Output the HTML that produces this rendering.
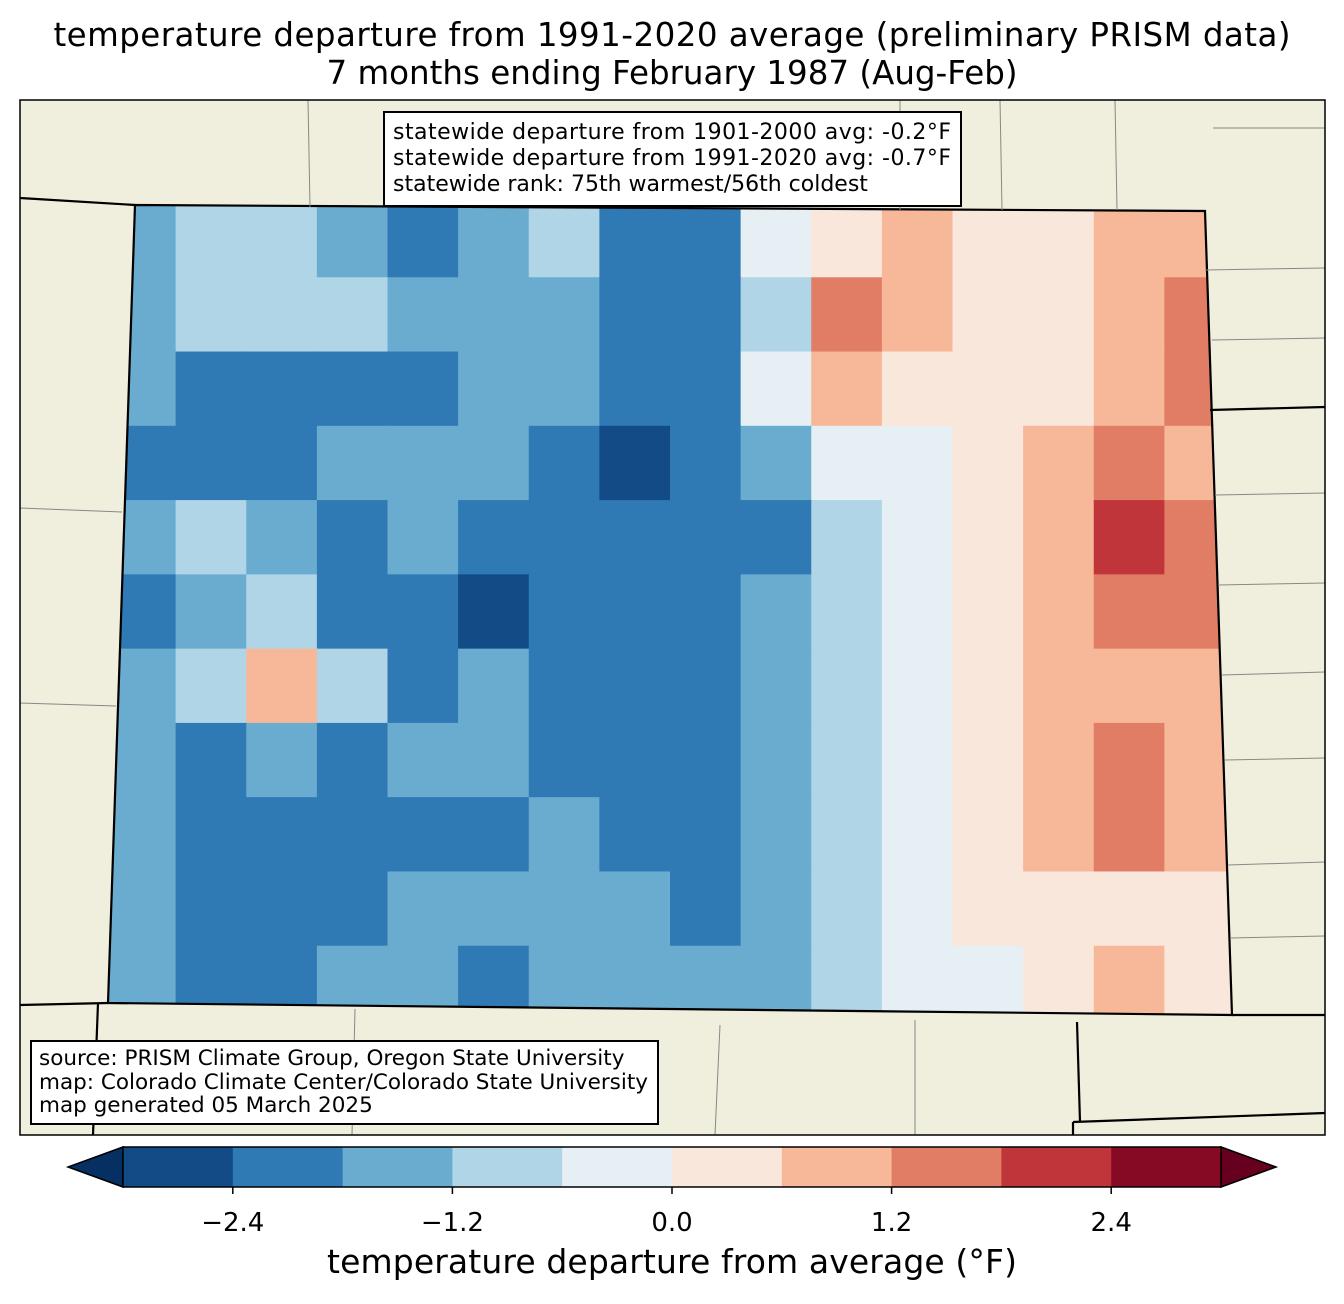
<!DOCTYPE html>
<html><head><meta charset="utf-8"><style>
body{margin:0;background:#fff;width:1344px;height:1299px;overflow:hidden;font-family:"Liberation Sans","DejaVu Sans",sans-serif}
</style></head><body>
<svg width="1344" height="1299" viewBox="0 0 1344 1299" xmlns="http://www.w3.org/2000/svg" font-family="DejaVu Sans, Liberation Sans, sans-serif">
<text x="672" y="46" font-size="32.5" text-anchor="middle" textLength="1237">temperature departure from 1991-2020 average (preliminary PRISM data)</text>
<text x="672" y="84" font-size="32.5" text-anchor="middle">7 months ending February 1987 (Aug-Feb)</text>
<defs><clipPath id="st"><polygon points="135,205 1205,211 1232,1015 108,1003"/></clipPath>
<clipPath id="fr"><rect x="20" y="100" width="1305" height="1035"/></clipPath></defs>
<rect x="20" y="100" width="1305" height="1035" fill="#f0eedc"/>
<g id="heat" clip-path="url(#st)"></g>
<g clip-path="url(#fr)" stroke="#000" stroke-width="2.2" fill="none">
<polygon points="135,205 1205,211 1232,1015 108,1003"/>
<line x1="20" y1="198" x2="135" y2="205"/><line x1="20" y1="1005" x2="108" y2="1003"/>
<line x1="1210" y1="410" x2="1325" y2="407"/><line x1="1232" y1="1015" x2="1325" y2="1015"/>
<line x1="1077" y1="1022" x2="1080" y2="1122"/><line x1="1073" y1="1122" x2="1325" y2="1113"/><line x1="1073" y1="1122" x2="1073" y2="1135"/>
<line x1="98" y1="1003" x2="93" y2="1135"/>
</g>
<g stroke="#888" stroke-width="1" fill="none" clip-path="url(#fr)">
<line x1="20" y1="508" x2="122" y2="512"/><line x1="20" y1="703" x2="116" y2="706"/>
<line x1="1213" y1="128" x2="1325" y2="128"/><line x1="1205" y1="270" x2="1325" y2="268"/><line x1="1212" y1="340" x2="1325" y2="338"/>
<line x1="1215" y1="495" x2="1325" y2="493"/><line x1="1218" y1="585" x2="1325" y2="583"/><line x1="1222" y1="675" x2="1325" y2="672"/>
<line x1="1225" y1="760" x2="1325" y2="758"/><line x1="1228" y1="865" x2="1325" y2="862"/><line x1="1230" y1="938" x2="1325" y2="936"/>
<line x1="308" y1="100" x2="310" y2="207"/><line x1="900" y1="100" x2="900" y2="210"/><line x1="1000" y1="100" x2="1002" y2="210"/><line x1="1115" y1="100" x2="1117" y2="210"/>
<line x1="355" y1="1009" x2="352" y2="1135"/><line x1="915" y1="1020" x2="915" y2="1135"/><line x1="720" y1="1025" x2="715" y2="1135"/>
</g>
<rect x="20" y="100" width="1305" height="1035" fill="none" stroke="#000" stroke-width="1.5"/>
<g>
<rect x="384" y="112" width="577" height="94" fill="#fff" stroke="#000" stroke-width="2"/>
<text x="393" y="139" font-size="22" textLength="558">statewide departure from 1901-2000 avg: -0.2°F</text>
<text x="393" y="165" font-size="22" textLength="558">statewide departure from 1991-2020 avg: -0.7°F</text>
<text x="393" y="191" font-size="22">statewide rank: 75th warmest/56th coldest</text>
</g>
<g>
<rect x="31" y="1041" width="627" height="83" fill="#fff" stroke="#000" stroke-width="2"/>
<text x="39" y="1065" font-size="21.5">source: PRISM Climate Group, Oregon State University</text>
<text x="39" y="1089" font-size="21.5" textLength="609">map: Colorado Climate Center/Colorado State University</text>
<text x="39" y="1112" font-size="21.5">map generated 05 March 2025</text>
</g>
<g id="cbar"></g>
<text x="672" y="1273" font-size="33" text-anchor="middle" textLength="690">temperature departure from average (°F)</text>
</svg>
<script>
const binColors=["#134b87","#2f79b5","#6aacd0","#b0d5e7","#e6eff4","#fae7dc","#f7b799","#e17d65","#c0353a","#870a24"];
const binEdges=[-3.0,-2.4,-1.8,-1.2,-0.6,0,0.6,1.2,1.8,2.4,3.0];
const tickValues=[-2.4,-1.2,0.0,1.2,2.4];
const tickLabels=["\u22122.4","\u22121.2","0.0","1.2","2.4"];
const gridRows=[
[-1.3,-0.9,-1.2,-1.5,-1.9,-1.3,-0.7,-1.9,-2.2,-0.4,0.3,0.7,0.3,0.3,0.9,0.9],
[-1.3,-0.9,-0.8,-0.7,-1.3,-1.5,-1.3,-1.9,-2.3,-0.7,1.5,0.8,0.3,0.3,0.9,1.5],
[-1.5,-1.9,-2.1,-2.3,-2.1,-1.5,-1.3,-1.9,-2.3,-0.4,0.6,0.3,0.3,0.3,0.9,1.2],
[-1.9,-2.1,-1.9,-1.5,-1.5,-1.3,-2.1,-2.5,-2.1,-1.3,-0.6,-0.3,0.2,0.6,1.2,0.9],
[-1.5,-0.9,-1.5,-1.9,-1.5,-2.1,-2.3,-2.1,-1.9,-1.9,-1.0,-0.3,0.3,1.0,2.0,1.5],
[-2.1,-1.3,-0.9,-1.9,-2.3,-2.5,-2.1,-1.9,-2.1,-1.5,-0.7,-0.3,0.3,0.8,1.5,1.2],
[-1.5,-0.9,0.6,-0.9,-2.1,-1.5,-2.1,-2.1,-2.3,-1.5,-0.7,-0.3,0.3,0.6,0.9,0.9],
[-1.5,-1.9,-1.5,-1.9,-1.3,-1.5,-1.9,-1.9,-2.4,-1.3,-0.7,-0.3,0.3,0.9,1.2,0.6],
[-1.3,-1.9,-2.1,-1.9,-1.9,-1.9,-1.5,-1.9,-2.4,-1.3,-0.7,-0.3,0.3,0.9,1.2,0.6],
[-1.5,-1.9,-2.1,-1.9,-1.3,-1.5,-1.3,-1.5,-1.9,-1.3,-0.7,-0.3,0.1,0.3,0.3,0.3],
[-1.5,-2.1,-1.9,-1.5,-1.5,-1.9,-1.5,-1.5,-1.5,-1.3,-0.7,-0.3,-0.3,0.1,0.6,0.3]];
const NS="http://www.w3.org/2000/svg";
function colorFor(v){for(let i=0;i<10;i++){if(v<binEdges[i+1])return binColors[i];}return binColors[9];}
const mx0=105,mx1=1235,my0=203,my1=1020;
const heat=document.getElementById('heat');
const nr=gridRows.length,nc=gridRows[0].length,cw=(mx1-mx0)/nc,ch=(my1-my0)/nr;
gridRows.forEach((row,r)=>row.forEach((v,c)=>{
const el=document.createElementNS(NS,'rect');


el.setAttribute('x',mx0+c*cw);el.setAttribute('y',my0+r*ch);
el.setAttribute('width',cw+1);el.setAttribute('height',ch+1);el.setAttribute('fill',colorFor(v));
heat.appendChild(el);}));
const cb=document.getElementById('cbar');
const cx0=123,cx1=1221,cy0=1147,cy1=1187;
const sx=v=>cx0+(v-binEdges[0])/(binEdges[10]-binEdges[0])*(cx1-cx0);
function add(tag,attrs,name){const el=document.createElementNS(NS,tag);for(const k in attrs)el.setAttribute(k,attrs[k]);


cb.appendChild(el);return el;}
add('polygon',{points:`${cx0},${cy0} ${cx0},${cy1} 68,1167`,fill:'#053061',stroke:'#000','stroke-width':1.5},'colorbar-min-arrow');
add('polygon',{points:`${cx1},${cy0} ${cx1},${cy1} 1276,1167`,fill:'#67001f',stroke:'#000','stroke-width':1.5},'colorbar-max-arrow');
binColors.forEach((c,i)=>{add('rect',{x:sx(binEdges[i]),y:cy0,width:sx(binEdges[i+1])-sx(binEdges[i])+0.5,height:cy1-cy0,fill:c},'colorbar-bin');});
add('rect',{x:cx0,y:cy0,width:cx1-cx0,height:cy1-cy0,fill:'none',stroke:'#000','stroke-width':1.5},'colorbar-outline');
tickValues.forEach((v,i)=>{add('line',{x1:sx(v),x2:sx(v),y1:cy1,y2:cy1+7,stroke:'#000','stroke-width':1.5},'colorbar-tick');
const t=add('text',{x:sx(v),y:1231,'font-size':26,'text-anchor':'middle'},'colorbar-tick-label');t.textContent=tickLabels[i];});
</script>
</body></html>
